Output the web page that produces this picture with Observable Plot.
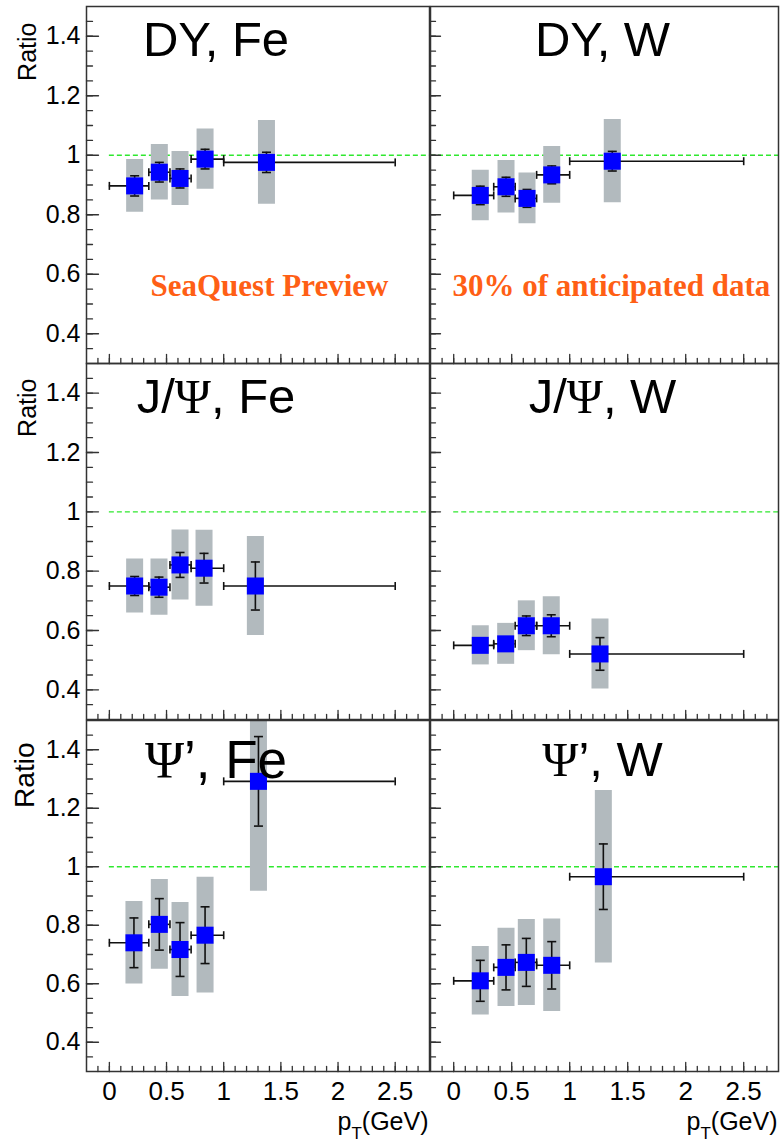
<!DOCTYPE html>
<html>
<head>
<meta charset="utf-8">
<script src="https://cdn.jsdelivr.net/npm/d3@7"></script>
<script src="https://cdn.jsdelivr.net/npm/@observablehq/plot@0.6"></script>
<style>
  body { margin: 0; background: #fff; }
  #chart { position: relative; width: 780px; height: 1146px; overflow: hidden; background: #fff; }
  #chart svg { position: absolute; }
</style>
</head>
<body>
<svg width="0" height="0" style="position:absolute">
  <defs>
    <pattern id="sysHatch" width="2" height="2" patternUnits="userSpaceOnUse">
      <rect width="2" height="2" fill="#e0e4e6"></rect>
      <rect width="1" height="1" fill="#848f96"></rect>
      <rect x="1" y="1" width="1" height="1" fill="#848f96"></rect>
    </pattern>
  </defs>
</svg>
<div id="chart"></div>
<script>
// ---------------- data ----------------
const binEdges = [0, 0.345, 0.53, 0.715, 1.0, 2.5];

const dyFePt    = [0.221, 0.437, 0.618, 0.837, 1.374];
const dyFeRatio = [0.897, 0.943, 0.922, 0.987, 0.976];
const dyFeStat  = [0.034, 0.033, 0.032, 0.033, 0.034];
const dyFeSys   = [0.089, 0.093, 0.091, 0.101, 0.141];

const dyWPt     = [0.229, 0.451, 0.632, 0.845, 1.367];
const dyWRatio  = [0.865, 0.894, 0.855, 0.934, 0.980];
const dyWStat   = [0.031, 0.032, 0.030, 0.030, 0.033];
const dyWSys    = [0.085, 0.088, 0.085, 0.095, 0.140];

const jpsiFePt    = [0.221, 0.434, 0.618, 0.828, 1.277];
const jpsiFeRatio = [0.750, 0.746, 0.821, 0.810, 0.750];
const jpsiFeStat  = [0.032, 0.034, 0.042, 0.050, 0.081];
const jpsiFeSys   = [0.091, 0.095, 0.118, 0.128, 0.167];

const jpsiWPt    = [0.229, 0.448, 0.626, 0.841, 1.261];
const jpsiWRatio = [0.550, 0.555, 0.616, 0.616, 0.521];
const jpsiWStat  = [0.020, 0.020, 0.033, 0.037, 0.055];
const jpsiWSys   = [0.066, 0.069, 0.084, 0.098, 0.118];

const psi2FePt    = [0.215, 0.437, 0.618, 0.837, 1.304];
const psi2FeRatio = [0.740, 0.803, 0.717, 0.766, 1.292];
const psi2FeStat  = [0.085, 0.088, 0.092, 0.097, 0.153];
const psi2FeSys   = [0.141, 0.153, 0.161, 0.198, 0.376];

const psi2WPt    = [0.229, 0.451, 0.626, 0.845, 1.290];
const psi2WRatio = [0.610, 0.656, 0.673, 0.663, 0.966];
const psi2WStat  = [0.070, 0.077, 0.082, 0.081, 0.112];
const psi2WSys   = [0.117, 0.134, 0.147, 0.158, 0.295];

const panelTitles = ["DY, Fe", "DY, W", "J/Ψ, Fe", "J/Ψ, W", "Ψ’, Fe", "Ψ’, W"];
const notes = ["SeaQuest Preview", "30% of anticipated data"];
const yLabel = "Ratio";
const xLabel = "pT(GeV)";

const yMajorTicks = [0.4, 0.6, 0.8, 1, 1.2, 1.4];
const yMinorTicks = d3.range(7, 30).map(i => i * 0.05);
const xMajorTicks = [0, 0.5, 1, 1.5, 2, 2.5];
const xMinorTicks = d3.range(-1, 28).map(i => i / 10);
const xDomain = [-0.2, 2.8];
const yDomain = [0.3, 1.5];
const unity = [1];

// ---------------- layout (style only) ----------------
const rowBoxes = [
  {top: 0,   height: 366, mt: 6, mb: 3},
  {top: 360, height: 363, mt: 3, mb: 4},
  {top: 716, height: 430, mt: 4, mb: 75}
];
const colBoxes = [
  {left: 0,   width: 431, ml: 86, mr: 2},
  {left: 428, width: 352, ml: 2,  mr: 2}
];
const lineStart = [0, -0.2, 0, 0, 0, -0.2];
const titleSize = [49, 49, 49, 49, 53, 49];
const titleBaseline = [49, 49, 49, 49, 57, 55];
const ratioStyle = [{fs: 25, dy: 16, dx: -59}, {fs: 25, dy: 15, dx: -59}, {fs: 28, dy: 22, dx: -61}];

const panels = [
  {pt: dyFePt, ratio: dyFeRatio, stat: dyFeStat, sys: dyFeSys},
  {pt: dyWPt, ratio: dyWRatio, stat: dyWStat, sys: dyWSys},
  {pt: jpsiFePt, ratio: jpsiFeRatio, stat: jpsiFeStat, sys: jpsiFeSys},
  {pt: jpsiWPt, ratio: jpsiWRatio, stat: jpsiWStat, sys: jpsiWSys},
  {pt: psi2FePt, ratio: psi2FeRatio, stat: psi2FeStat, sys: psi2FeSys},
  {pt: psi2WPt, ratio: psi2WRatio, stat: psi2WStat, sys: psi2WSys}
];

const hCap = {draw(ctx, size) { const l = Math.sqrt(size / Math.PI); ctx.moveTo(-l, 0); ctx.lineTo(l, 0); }};
const vCap = {draw(ctx, size) { const l = Math.sqrt(size / Math.PI); ctx.moveTo(0, -l); ctx.lineTo(0, l); }};
const tickShape = {draw(ctx, l) { ctx.moveTo(0, 0); ctx.lineTo(0, -l); }};

const ink = "#111";
const frameInk = "#333";
const sans = "'Liberation Sans', Arial, Helvetica, sans-serif";

function makePanel(p, i) {
  const row = Math.floor(i / 2), col = i % 2;
  const R = rowBoxes[row], C = colBoxes[col];
  const isLeft = col === 0, isBottom = row === 2;
  const data = p.pt.map((x, k) => ({x, lo: binEdges[k], hi: binEdges[k + 1], y: p.ratio[k], s: p.stat[k], u: p.sys[k]}));
  const marks = [
    Plot.ruleY(unity, {y: d => d, x1: lineStart[i], x2: xDomain[1], stroke: "#2fe82f", strokeWidth: 1.3, strokeDasharray: "5,3"}),
    Plot.ruleX(data, {x: "x", y1: d => d.y - d.u, y2: d => d.y + d.u, stroke: "url(#sysHatch)", strokeWidth: 17, clip: true}),
    Plot.ruleY(data, {y: "y", x1: "lo", x2: "hi", stroke: ink, strokeWidth: 1.6}),
    Plot.dot(data, {x: "lo", y: "y", symbol: vCap, r: 4, stroke: ink, strokeWidth: 1.6, fill: "none"}),
    Plot.dot(data, {x: "hi", y: "y", symbol: vCap, r: 4, stroke: ink, strokeWidth: 1.6, fill: "none"}),
    Plot.ruleX(data, {x: "x", y1: d => d.y - d.s, y2: d => d.y + d.s, stroke: ink, strokeWidth: 1.6}),
    Plot.dot(data, {x: "x", y: d => d.y - d.s, symbol: hCap, r: 4.5, stroke: ink, strokeWidth: 1.6, fill: "none"}),
    Plot.dot(data, {x: "x", y: d => d.y + d.s, symbol: hCap, r: 4.5, stroke: ink, strokeWidth: 1.6, fill: "none"}),
    Plot.dot(data, {x: "x", y: "y", symbol: "square", r: 9.6, fill: "#0000ff", stroke: "none"}),
    // inward ticks (ROOT style)
    Plot.vector(yMinorTicks, {y: d => d, frameAnchor: "left", length: isLeft ? 6 : 5, rotate: 90, anchor: "start", shape: tickShape, stroke: frameInk, strokeWidth: 1.3}),
    Plot.vector(yMajorTicks, {y: d => d, frameAnchor: "left", length: isLeft ? 12 : 10, rotate: 90, anchor: "start", shape: tickShape, stroke: frameInk, strokeWidth: 1.3}),
    Plot.vector(xMinorTicks, {x: d => d, frameAnchor: "bottom", length: 5, rotate: 0, anchor: "start", shape: tickShape, stroke: frameInk, strokeWidth: 1.3}),
    Plot.vector(xMajorTicks, {x: d => d, frameAnchor: "bottom", length: 9, rotate: 0, anchor: "start", shape: tickShape, stroke: frameInk, strokeWidth: 1.3}),
    Plot.frame({stroke: frameInk, strokeWidth: 1.5}),
    Plot.text([panelTitles[i]], {text: d => d, frameAnchor: "top", lineAnchor: "top", textAnchor: "middle",
      dx: isLeft ? -42 : -2, dy: titleBaseline[i] - 0.71 * titleSize[i], fontSize: titleSize[i], fill: "#000"})
  ];
  if (isLeft) {
    marks.push(
      Plot.axisY({ticks: yMajorTicks, tickSize: 0, tickPadding: 6, tickFormat: d => String(d), label: null, fontSize: 25, fill: "#000"}),
      Plot.text([yLabel], {text: d => d, frameAnchor: "top-left", rotate: -90, textAnchor: "end", lineAnchor: "middle",
        dx: ratioStyle[row].dx, dy: ratioStyle[row].dy, fontSize: ratioStyle[row].fs, fill: "#000"})
    );
  } else {
    marks.push(Plot.axisY({ticks: [], label: null}));
  }
  if (isBottom) {
    marks.push(
      Plot.axisX({ticks: xMajorTicks, tickSize: 0, tickPadding: 10, tickFormat: d => String(d), label: null, fontSize: 26, fill: "#000"}),
      Plot.text([xLabel], {text: d => d, frameAnchor: "bottom-right", textAnchor: "end", lineAnchor: "top",
        dx: -1, dy: 58 - 0.71 * 25, fontSize: 25, fill: "#000"})
    );
  } else {
    marks.push(Plot.axisX({ticks: [], label: null}));
  }
  if (row === 0) {
    marks.push(Plot.text([notes[col]], {text: d => d, frameAnchor: "top-left", textAnchor: "start", lineAnchor: "top",
      dx: isLeft ? 64 : 22, dy: 289 - 0.71 * 31, fontSize: 31, fontWeight: "bold",
      fontFamily: "'Liberation Serif', 'Times New Roman', serif", fill: "#ff5f15"}));
  }
  const svg = Plot.plot({
    width: C.width, height: R.height,
    marginLeft: C.ml, marginRight: C.mr, marginTop: R.mt, marginBottom: R.mb,
    x: {domain: xDomain},
    y: {domain: yDomain},
    style: {background: "transparent", overflow: "visible", fontFamily: sans, color: "#000"},
    marks
  });
  svg.style.left = C.left + "px";
  svg.style.top = R.top + "px";
  // rich text: subscript T and serif Psi glyph
  d3.select(svg).selectAll("text").each(function() {
    const t = this.textContent;
    const sel = d3.select(this);
    if (t === xLabel) {
      sel.text(null);
      sel.append("tspan").text("p");
      sel.append("tspan").attr("dy", 9).attr("font-size", 17).text("T");
      sel.append("tspan").attr("dy", -9).text("(GeV)");
    } else if (t.includes("Ψ")) {
      const parts = t.split("Ψ");
      sel.text(null);
      parts.forEach((part, k) => {
        if (k > 0) sel.append("tspan").attr("font-family", "'Liberation Serif', 'Times New Roman', serif").text("Ψ");
        if (part) sel.append("tspan").text(part);
      });
    }
  });
  return svg;
}

const chart = document.getElementById("chart");
panels.forEach((p, i) => chart.appendChild(makePanel(p, i)));
</script>
</body>
</html>
